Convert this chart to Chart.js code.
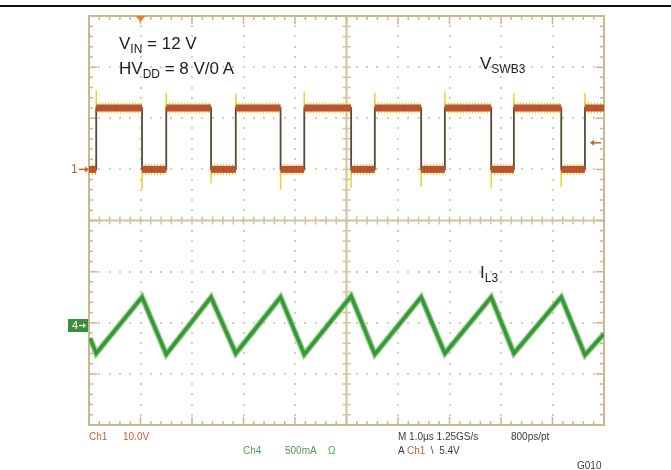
<!DOCTYPE html>
<html>
<head>
<meta charset="utf-8">
<script src="https://cdn.jsdelivr.net/npm/chart.js@4.4.1/dist/chart.umd.min.js"></script>
<style>
    body { margin: 0; background: #fff; }
    #wrap { position: relative; width: 671px; height: 470px; font-family: "Liberation Sans", Arial, sans-serif; }
    canvas { position: absolute; left: 0; top: 0; }
    .rule { position: absolute; left: 0; top: 5px; width: 671px; height: 2px; background: #111; }
    .big { position: absolute; font-size: 17px; line-height: 17px; color: #1c1c1c; white-space: nowrap; }
    .big sub { font-size: 12px; line-height: 0; vertical-align: -4px; }
    .small { position: absolute; font-size: 10px; line-height: 10px; white-space: nowrap; }
    .c1 { color: #c5603c; }
    .c4 { color: #4f9f4f; }
    .dk { color: #3a3a3a; }
    #m1 { font-size: 12px; line-height: 12px; }
    #m4 { position: absolute; left: 72px; color: #fff; font-size: 11px; line-height: 13px; }
</style>
</head>
<body>
<div id="wrap">
    <canvas id="scope" width="671" height="470"></canvas>
    <div class="rule"></div>

    <div class="big" style="left:119px;top:35px">V<sub>IN</sub> = 12 V</div>
    <div class="big" style="left:119px;top:60px">HV<sub>DD</sub> = 8 V/0 A</div>
    <div class="big" style="left:480px;top:55px">V<sub>SWB3</sub></div>
    <div class="big" style="left:480px;top:264px">I<sub>L3</sub></div>

    <div class="small c1" id="m1" style="left:71px">1</div>
    <div id="m4">4</div>

    <div class="small c1" style="left:89px;top:432px">Ch1</div>
    <div class="small c1" style="left:123px;top:432px">10.0V</div>
    <div class="small c4" style="left:243px;top:446px">Ch4</div>
    <div class="small c4" style="left:285px;top:446px">500mA</div>
    <div class="small c4" style="left:328px;top:446px">&Omega;</div>
    <div class="small dk" style="left:398px;top:432px">M 1.0&micro;s 1.25GS/s</div>
    <div class="small dk" style="left:511px;top:432px">800ps/pt</div>
    <div class="small dk" style="left:398px;top:446px">A <span class="c1">Ch1</span> &nbsp;\ &nbsp;5.4V</div>
    <div class="small dk" style="left:577px;top:461px">G010</div>
</div>

<script>
// ch1: switch node (divisions), ch4: inductor current (divisions)
const ch1Time  = [0.00, 0.14, 0.14, 1.03, 1.03, 1.50, 1.50, 2.37, 2.37, 2.85, 2.85, 3.72, 3.72, 4.18, 4.18, 5.09,
                  5.09, 5.55, 5.55, 6.45, 6.45, 6.91, 6.91, 7.81, 7.81, 8.25, 8.25, 9.17, 9.17, 9.63, 9.63, 10.00];
const ch1Level = [1.0, 1.0, 2.2, 2.2, 1.0, 1.0, 2.2, 2.2, 1.0, 1.0, 2.2, 2.2, 1.0, 1.0, 2.2, 2.2,
                  1.0, 1.0, 2.2, 2.2, 1.0, 1.0, 2.2, 2.2, 1.0, 1.0, 2.2, 2.2, 1.0, 1.0, 2.2, 2.2];

// ringing spikes at the edges
const spikeTime = [0.14, 1.03, 1.50, 2.37, 2.85, 3.72, 4.18, 5.09, 5.55, 6.45, 6.91, 7.81, 8.25, 9.17, 9.63];
const spikeFrom = [2.2, 1.0, 2.2, 1.0, 2.2, 1.0, 2.2, 1.0, 2.2, 1.0, 2.2, 1.0, 2.2, 1.0, 2.2];
const spikeTo   = [2.55, 0.62, 2.50, 0.73, 2.48, 0.60, 2.52, 0.64, 2.50, 0.66, 2.53, 0.63, 2.49, 0.65, 2.50];

const ch4Time  = [0.02, 0.14, 1.03, 1.50, 2.37, 2.85, 3.72, 4.18, 5.09, 5.55, 6.45, 6.91, 7.81, 8.25, 9.17, 9.63, 10.00];
const ch4Level = [-2.30, -2.60, -1.50, -2.62, -1.50, -2.60, -1.50, -2.62, -1.48, -2.62, -1.50, -2.60, -1.50, -2.60, -1.50, -2.63, -2.22];

const ch1Offset = 1.0;
const ch4Offset = -2.05;
const trigLevel = 1.52;
const trigTime = 1.0;

const toPoints = (xs, ys) => xs.map((x, i) => ({ x: x, y: ys[i] }));

const spikePoints = [];
spikeTime.forEach((t, i) => {
    spikePoints.push({ x: t, y: spikeFrom[i] }, { x: t, y: spikeTo[i] }, { x: t, y: null });
});

const ch1Points = toPoints(ch1Time, ch1Level);
const ch4Points = toPoints(ch4Time, ch4Level);

const plateauOnly = (color) => (c) => c.p0.parsed.x === c.p1.parsed.x ? 'rgba(0,0,0,0)' : color;

const frameCol = '#c9b78f';

const scopePlugin = {
    id: 'scope',
    beforeDatasetsDraw(chart) {
        const { ctx, chartArea: a, scales: { x, y } } = chart;
        ctx.save();
        // dotted graticule
        ctx.fillStyle = '#d6cdb6';
        for (let i = 1; i < 10; i++) {
            if (i === 5) continue;
            const px = Math.round(x.getPixelForValue(i));
            for (let k = 1; k < 40; k++) {
                ctx.fillRect(px - 1, Math.round(y.getPixelForValue(-4 + k * 0.2)) - 1, 2, 2);
            }
        }
        for (let j = -3; j <= 3; j++) {
            if (j === 0) continue;
            const py = Math.round(y.getPixelForValue(j));
            for (let k = 1; k < 50; k++) {
                ctx.fillRect(Math.round(x.getPixelForValue(k * 0.2)) - 1, py - 1, 2, 2);
            }
        }
        // centre cross
        const cx = x.getPixelForValue(5), cy = y.getPixelForValue(0);
        ctx.strokeStyle = '#d2c39e';
        ctx.lineWidth = 2;
        ctx.beginPath();
        ctx.moveTo(cx, a.top); ctx.lineTo(cx, a.bottom);
        ctx.moveTo(a.left, cy); ctx.lineTo(a.right, cy);
        ctx.stroke();
        ctx.lineWidth = 1.5;
        ctx.beginPath();
        for (let k = 1; k < 50; k++) {
            const px = x.getPixelForValue(k * 0.2);
            ctx.moveTo(px, cy - 4); ctx.lineTo(px, cy + 4);
        }
        for (let k = 1; k < 40; k++) {
            const py = y.getPixelForValue(-4 + k * 0.2);
            ctx.moveTo(cx - 4, py); ctx.lineTo(cx + 4, py);
        }
        ctx.stroke();
        // frame with ticks
        ctx.strokeStyle = frameCol;
        ctx.lineWidth = 2;
        ctx.strokeRect(a.left, a.top, a.right - a.left, a.bottom - a.top);
        ctx.lineWidth = 1.5;
        ctx.beginPath();
        for (let k = 1; k < 50; k++) {
            const px = x.getPixelForValue(k * 0.2);
            const len = k % 5 === 0 ? 8 : 4;
            ctx.moveTo(px, a.top); ctx.lineTo(px, a.top + len);
            ctx.moveTo(px, a.bottom); ctx.lineTo(px, a.bottom - len);
        }
        for (let k = 1; k < 40; k++) {
            const py = y.getPixelForValue(-4 + k * 0.2);
            const len = k % 5 === 0 ? 8 : 4;
            ctx.moveTo(a.left, py); ctx.lineTo(a.left + len, py);
            ctx.moveTo(a.right, py); ctx.lineTo(a.right - len, py);
        }
        ctx.stroke();
        ctx.restore();
    },
    afterDatasetsDraw(chart) {
        const { ctx, chartArea: a, scales: { x, y } } = chart;
        ctx.save();
        ctx.fillStyle = '#f07a3a';
        // trigger position
        const tx = x.getPixelForValue(trigTime);
        ctx.beginPath();
        ctx.moveTo(tx - 5, a.top); ctx.lineTo(tx + 5, a.top); ctx.lineTo(tx, a.top + 6);
        ctx.closePath(); ctx.fill();
        // ch1 ground arrow
        ctx.strokeStyle = '#c5603c';
        ctx.fillStyle = '#c5603c';
        ctx.lineWidth = 1.5;
        const gy = y.getPixelForValue(ch1Offset);
        ctx.beginPath(); ctx.moveTo(a.left - 10, gy); ctx.lineTo(a.left - 2, gy); ctx.stroke();
        ctx.beginPath(); ctx.moveTo(a.left, gy); ctx.lineTo(a.left - 4, gy - 3); ctx.lineTo(a.left - 4, gy + 3); ctx.closePath(); ctx.fill();
        // trigger level arrow
        const ty = y.getPixelForValue(trigLevel);
        const rx = a.right - 3;
        ctx.beginPath(); ctx.moveTo(rx - 8, ty); ctx.lineTo(rx, ty); ctx.stroke();
        ctx.beginPath(); ctx.moveTo(rx - 11, ty); ctx.lineTo(rx - 7, ty - 3); ctx.lineTo(rx - 7, ty + 3); ctx.closePath(); ctx.fill();
        // ch4 ground tag
        const cy4 = Math.round(y.getPixelForValue(ch4Offset));
        ctx.fillStyle = '#3b8e3b';
        ctx.fillRect(a.left - 21, cy4 - 6, 20, 13);
        ctx.strokeStyle = '#fff';
        ctx.fillStyle = '#fff';
        ctx.lineWidth = 1.2;
        ctx.beginPath(); ctx.moveTo(a.left - 10, cy4 + 0.5); ctx.lineTo(a.left - 5, cy4 + 0.5); ctx.stroke();
        ctx.beginPath(); ctx.moveTo(a.left - 3, cy4 + 0.5); ctx.lineTo(a.left - 6, cy4 - 2); ctx.lineTo(a.left - 6, cy4 + 3); ctx.closePath(); ctx.fill();
        ctx.restore();
    }
};

const conf = {
    type: 'line',
    data: {
        datasets: [
            {   // ch1 plateaus
                data: ch1Points,
                borderColor: '#bb5330',
                borderWidth: 7,
                segment: { borderColor: plateauOnly('#bb5330') },
                order: 1
            },
            {   // ch1 edges
                data: ch1Points,
                borderColor: '#564c34',
                borderWidth: 1.8,
                order: 2
            },
            {   // ch1 yellow noise band
                data: ch1Points,
                borderColor: '#e8cc1a',
                borderWidth: 11,
                borderDash: [1, 2],
                segment: { borderColor: plateauOnly('#e8cc1a') },
                order: 3
            },
            {   // ch1 ringing
                data: spikePoints,
                borderColor: '#ecd22a',
                borderWidth: 1.5,
                spanGaps: false,
                order: 4
            },
            {   // ch4
                data: ch4Points,
                borderColor: '#3a963a',
                borderWidth: 3.5,
                order: 5
            },
            {   // ch4 fringe
                data: ch4Points,
                borderColor: 'rgba(120,200,110,0.8)',
                borderWidth: 6,
                order: 6
            }
        ]
    },
    options: {
        responsive: false,
        animation: false,
        layout: { padding: { left: 89, right: 67, top: 16, bottom: 45 } },
        elements: { point: { radius: 0 }, line: { tension: 0, borderJoinStyle: 'miter', borderCapStyle: 'butt' } },
        plugins: { legend: { display: false }, tooltip: { enabled: false } },
        scales: {
            x: { type: 'linear', min: 0, max: 10, display: false },
            y: { type: 'linear', min: -4, max: 4, display: false }
        }
    },
    plugins: [scopePlugin]
};

const myChart = new Chart(document.getElementById('scope'), conf);

// place channel markers at their offsets
const yScale = myChart.scales.y;
document.getElementById('m1').style.top = (yScale.getPixelForValue(ch1Offset) - 6) + 'px';
document.getElementById('m4').style.top = (Math.round(yScale.getPixelForValue(ch4Offset)) - 6) + 'px';
</script>
</body>
</html>
